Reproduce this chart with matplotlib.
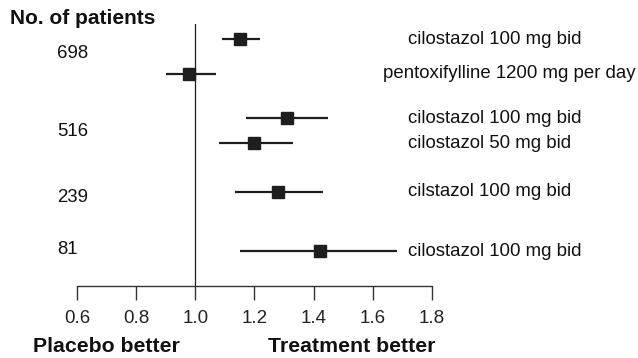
import matplotlib
matplotlib.use("Agg")
import matplotlib.pyplot as plt

plt.rcParams['font.family'] = ['Liberation Sans', 'DejaVu Sans']

# Data
treatments = ["cilostazol 100 mg bid", "pentoxifylline 1200 mg per day",
              "cilostazol 100 mg bid", "cilostazol 50 mg bid",
              "cilstazol 100 mg bid", "cilostazol 100 mg bid"]
estimates = [1.15, 0.98, 1.31, 1.20, 1.28, 1.42]
ci_low = [1.09, 0.90, 1.17, 1.08, 1.135, 1.15]
ci_high = [1.22, 1.07, 1.45, 1.33, 1.43, 1.68]
patients = ["698", "516", "239", "81"]
xticks = [0.6, 0.8, 1.0, 1.2, 1.4, 1.6, 1.8]

# Layout (pixel rows from top)
row_y = [39, 74, 118, 143, 192, 251]
patient_y = [53, 132, 197, 249]
label_x = [408, 383, 408, 408, 408, 408]

W, H = 638, 358
fig = plt.figure(figsize=(W / 100, H / 100), dpi=100)
ax_top, ax_bot = 24, 286
ax = fig.add_axes([77 / W, (H - ax_bot) / H, (432 - 77) / W, (ax_bot - ax_top) / H])
ax.set_xlim(0.6, 1.8)
ax.set_ylim(ax_bot, ax_top)
col = '#1e1e1e'

for s in ['top', 'right', 'left']:
    ax.spines[s].set_visible(False)
ax.spines['bottom'].set_linewidth(1.0)
ax.spines['bottom'].set_color('#333333')
ax.set_yticks([])
ax.set_xticks(xticks)
ax.set_xticklabels([f"{t:.1f}" for t in xticks])
ax.tick_params(axis='x', direction='out', length=10, width=1.0, color='#333333',
               labelsize=13.5, labelcolor='#222222', pad=7)

ax.axvline(1.0, color=col, lw=0.9)

for est, lo, hi, y in zip(estimates, ci_low, ci_high, row_y):
    ax.plot([lo, hi], [y, y], color=col, lw=1.6, solid_capstyle='butt')
    ax.plot([est], [y], marker='s', ms=8.5, color=col, mec=col)

for lab, x, y in zip(treatments, label_x, row_y):
    fig.text(x / W, 1 - y / H, lab, fontsize=13.4, color='#111111', va='center', ha='left')

for lab, y in zip(patients, patient_y):
    fig.text(57 / W, 1 - y / H, lab, fontsize=13.4, color='#111111', va='center', ha='left')

fig.text(10 / W, 1 - 18 / H, "No. of patients", fontsize=15, fontweight='bold',
         color='#111111', va='center', ha='left')
fig.text(106 / W, 1 - 346 / H, "Placebo better", fontsize=15.3, fontweight='bold',
         color='#111111', va='center', ha='center')
fig.text(352 / W, 1 - 346 / H, "Treatment better", fontsize=15.3, fontweight='bold',
         color='#111111', va='center', ha='center')

fig.savefig("out.png", dpi=100)
